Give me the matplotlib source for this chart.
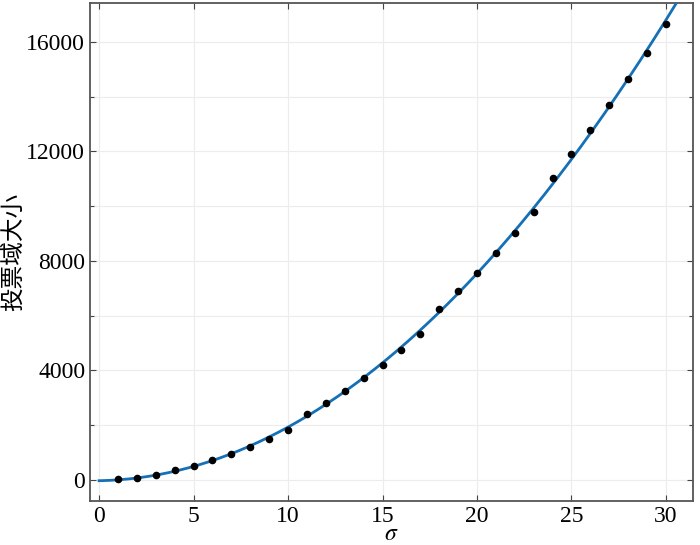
import numpy as np
import matplotlib
matplotlib.use("Agg")
import matplotlib.pyplot as plt
from matplotlib.ticker import MultipleLocator

sigma = list(range(1, 31))
vote_size = [20, 70, 170, 365, 520, 730, 960, 1220, 1510, 1830,
             2400, 2800, 3240, 3715, 4210, 4750, 5320, 6250, 6890, 7570,
             8280, 9010, 9800, 11020, 11900, 12785, 13700, 14640, 15610, 16650]
x_ticks = [0, 5, 10, 15, 20, 25, 30]
y_ticks = [0, 4000, 8000, 12000, 16000]

plt.rcParams['font.family'] = ['Liberation Serif', 'DejaVu Serif']
plt.rcParams['mathtext.fontset'] = 'stix'

fig = plt.figure(figsize=(7, 5.45), dpi=100)
ax = fig.add_axes([0.1286, 0.0807, 0.8614, 0.9138])

coef = np.polyfit(sigma, vote_size, 2)
xf = np.linspace(0, 31.5, 300)
ax.plot(xf, np.polyval(coef, xf), color='#1570b5', lw=2.0, zorder=3)
ax.scatter(sigma, vote_size, s=20, color='black', zorder=4)

ax.set_xlim(-0.48, 31.43)
ax.set_ylim(-770, 17420)
ax.set_xticks(x_ticks)
ax.set_yticks(y_ticks)
ax.yaxis.set_minor_locator(MultipleLocator(2000))
ax.grid(True, which='both', color='#ececec', lw=0.8)
ax.set_axisbelow(True)
ax.tick_params(which='both', direction='in', top=True, right=True,
               labelsize=17, color='#444444', width=0.8)
ax.tick_params(which='major', length=4)
ax.tick_params(which='minor', length=3)
for s in ax.spines.values():
    s.set_color('#555555')
    s.set_linewidth(1.3)

ax.set_xlabel(r'$\sigma$', fontsize=17)
ax.xaxis.set_label_coords(0.5, -0.046)
ax.set_ylabel('投票域大小', fontsize=17, family=['Noto Sans CJK SC', 'DejaVu Sans'])
ax.yaxis.set_label_coords(-0.108, 0.5)

fig.savefig('out.png', dpi=100)
